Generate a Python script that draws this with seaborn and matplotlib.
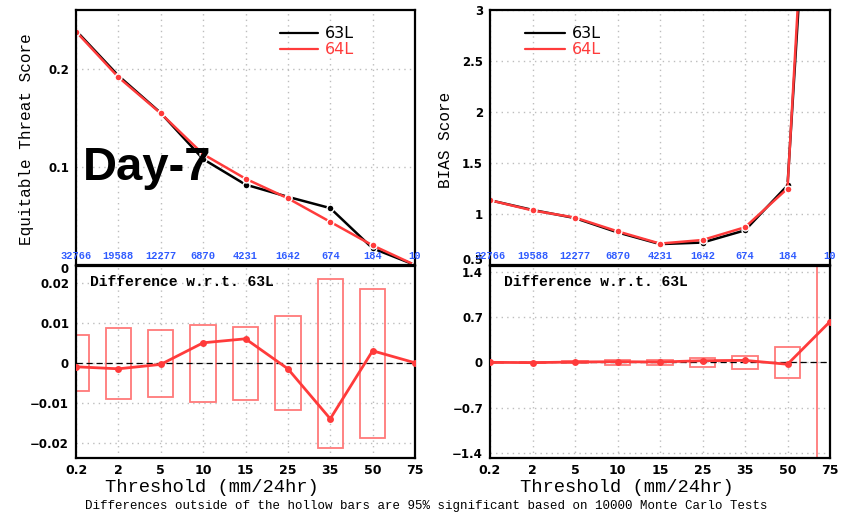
import numpy as np
import pandas as pd
import matplotlib
matplotlib.use("Agg")
import matplotlib.pyplot as plt
import matplotlib.transforms as mtransforms
from matplotlib.patches import Rectangle
import seaborn as sns

# Precipitation thresholds (mm/24hr) and number of verifying observations
thresholds = ["0.2", "2", "5", "10", "15", "25", "35", "50", "75"]
obs_counts = ["32766", "19588", "12277", "6870", "4231", "1642", "674", "184", "10"]

# Equitable threat score
ets_63L = [0.239, 0.193, 0.155, 0.108, 0.082, 0.0695, 0.058, 0.017, 0.0]
ets_64L = [0.238, 0.1915, 0.1546, 0.113, 0.088, 0.068, 0.044, 0.020, 0.0]
ets_diff = [-0.001, -0.0015, -0.0004, 0.005, 0.006, -0.0015, -0.014, 0.003, 0.0]
ets_sig_hi = [0.007, 0.0088, 0.0083, 0.0095, 0.009, 0.0117, 0.021, 0.0185, 0.0]
ets_sig_lo = [-0.007, -0.009, -0.0085, -0.0097, -0.0092, -0.0118, -0.0213, -0.0187, 0.0]

# Frequency bias
bias_63L = [1.135, 1.04, 0.96, 0.82, 0.705, 0.72, 0.84, 1.28, 8.0]
bias_64L = [1.135, 1.035, 0.965, 0.83, 0.71, 0.745, 0.87, 1.25, 8.63]
bias_diff = [0.0, -0.005, 0.005, 0.01, 0.005, 0.025, 0.03, -0.03, 0.63]
bias_sig_hi = [0.01, 0.01, 0.015, 0.04, 0.04, 0.07, 0.10, 0.24, 3.0]
bias_sig_lo = [-0.01, -0.01, -0.015, -0.04, -0.04, -0.07, -0.10, -0.24, -3.0]

RED = "#ff3b3b"
BOX = "#ff7a7a"
BLUE = "#2f5bff"
MONO = "Liberation Mono"

sns.set_style("white")
plt.rcParams["font.family"] = ["DejaVu Sans"]
plt.rcParams["text.color"] = "black"
plt.rcParams["xtick.color"] = "black"
plt.rcParams["ytick.color"] = "black"

fig = plt.figure(figsize=(8.5, 5.16), dpi=100)
W, H = 850.0, 516.0


def add_axes(x0, y0, x1, y1):
    return fig.add_axes([x0 / W, 1 - y1 / H, (x1 - x0) / W, (y1 - y0) / H])


ax_ets = add_axes(76, 10, 415, 265)
ax_bias = add_axes(490, 10, 830, 265)
ax_ets_d = add_axes(76, 266, 415, 458)
ax_bias_d = add_axes(490, 266, 830, 458)

idx = np.arange(len(thresholds))


def style(ax, yticks, ylabels, ylim):
    ax.set_xlim(0, len(thresholds) - 1)
    ax.set_ylim(*ylim)
    ax.set_xticks(idx)
    ax.set_yticks(yticks)
    ax.set_yticklabels(ylabels, fontsize=8.5, fontweight="bold", color="black")
    ax.grid(True, color="#bdbdbd", linestyle=(0, (1, 3)), linewidth=1.0)
    for s in ax.spines.values():
        s.set_linewidth(1.6)
        s.set_color("black")
    ax.tick_params(axis="y", direction="out", length=3, width=1, pad=2,
                   colors="black")
    ax.tick_params(axis="x", direction="in", length=0, pad=4, colors="black")
    ax.set_xlabel("")
    ax.set_ylabel("")


def score_panel(ax, s63, s64, yticks, ylabels, ylim):
    df = pd.DataFrame({"x": np.concatenate([idx, idx]),
                       "score": np.concatenate([s63, s64]),
                       "run": ["63L"] * len(idx) + ["64L"] * len(idx)})
    sns.lineplot(data=df, x="x", y="score", hue="run",
                 palette={"63L": "black", "64L": RED}, marker="o",
                 markersize=5, markeredgewidth=1.0, linewidth=1.8,
                 legend=False, ax=ax)
    style(ax, yticks, ylabels, ylim)
    ax.set_xticklabels([])
    trans = mtransforms.blended_transform_factory(ax.transData, ax.transAxes)
    for i, c in enumerate(obs_counts):
        ax.text(i, 0.035, c, transform=trans, ha="center", va="center",
                color=BLUE, fontsize=7.5, family=MONO, fontweight="bold",
                clip_on=False)


def diff_panel(ax, diff, hi, lo, yticks, ylabels, ylim):
    for i in idx:
        if hi[i] - lo[i] > 0:
            ax.add_patch(Rectangle((i - 0.3, lo[i]), 0.6, hi[i] - lo[i],
                                   fill=False, edgecolor=BOX, linewidth=1.3,
                                   zorder=2))
    ax.axhline(0, color="black", linestyle=(0, (5, 3)), linewidth=0.9, zorder=3)
    df = pd.DataFrame({"x": idx, "d": diff})
    sns.lineplot(data=df, x="x", y="d", color=RED, marker="o", markersize=5,
                 markeredgewidth=0, linewidth=2.0, ax=ax, zorder=4)
    style(ax, yticks, ylabels, ylim)
    ax.set_xticklabels(thresholds, fontsize=9, fontweight="bold",
                       color="black")
    ax.text(0.04, 0.955, "Difference w.r.t. 63L", transform=ax.transAxes,
            ha="left", va="top", fontsize=10.5, family=MONO,
            fontweight="bold", color="black")


score_panel(ax_ets, ets_63L, ets_64L, [0, 0.1, 0.2], ["0", "0.1", "0.2"],
            (0, 0.26))
score_panel(ax_bias, bias_63L, bias_64L, [0.5, 1, 1.5, 2, 2.5, 3],
            ["0.5", "1", "1.5", "2", "2.5", "3"], (0.5, 3.0))
diff_panel(ax_ets_d, ets_diff, ets_sig_hi, ets_sig_lo,
           [-0.02, -0.01, 0, 0.01, 0.02],
           ["\u22120.02", "\u22120.01", "0", "0.01", "0.02"], (-0.0238, 0.0242))
diff_panel(ax_bias_d, bias_diff, bias_sig_hi, bias_sig_lo,
           [-1.4, -0.7, 0, 0.7, 1.4],
           ["\u22121.4", "\u22120.7", "0", "0.7", "1.4"], (-1.48, 1.49))

# Nudge the lowest score labels so they sit between the panels
zero_lab = ax_ets.get_yticklabels()[0]
zero_lab.set_transform(zero_lab.get_transform() +
                       mtransforms.ScaledTranslation(0, -3 / 100, fig.dpi_scale_trans))
lowest = ax_bias.get_yticklabels()[0]
lowest.set_va("bottom")
lowest.set_transform(lowest.get_transform() +
                     mtransforms.ScaledTranslation(0, -2 / 100, fig.dpi_scale_trans))

# Legends drawn as short line samples with coloured labels
for ax, (lx0, lx1, tx) in ((ax_ets, (280, 318, 325)),
                           (ax_bias, (525, 565, 572))):
    for yy, lab, col in ((33, "63L", "black"), (49, "64L", RED)):
        fig.add_artist(plt.Line2D([lx0 / W, lx1 / W], [1 - yy / H, 1 - yy / H],
                                  color=col, linewidth=1.6))
        fig.text(tx / W, 1 - yy / H, lab, color=col, fontsize=11.5,
                 ha="left", va="center")

fig.text(83 / W, 1 - 168 / H, "Day-7", fontsize=34, fontweight="bold",
         family="Liberation Sans", ha="left", va="center", color="black")

fig.text(27 / W, 1 - 139 / H, "Equitable Threat Score", rotation=90,
         fontsize=11.5, family=MONO, ha="center", va="center")
fig.text(445 / W, 1 - 140 / H, "BIAS Score", rotation=90,
         fontsize=11.5, family=MONO, ha="center", va="center")
fig.text(212 / W, 1 - 488 / H, "Threshold (mm/24hr)", fontsize=13.5,
         family=MONO, ha="center", va="center")
fig.text(627 / W, 1 - 488 / H, "Threshold (mm/24hr)", fontsize=13.5,
         family=MONO, ha="center", va="center")
fig.text(426 / W, 1 - 506 / H,
         "Differences outside of the hollow bars are 95% significant based "
         "on 10000 Monte Carlo Tests",
         fontsize=9, family=MONO, ha="center", va="center")

fig.savefig("out.png", dpi=100, facecolor="white")
